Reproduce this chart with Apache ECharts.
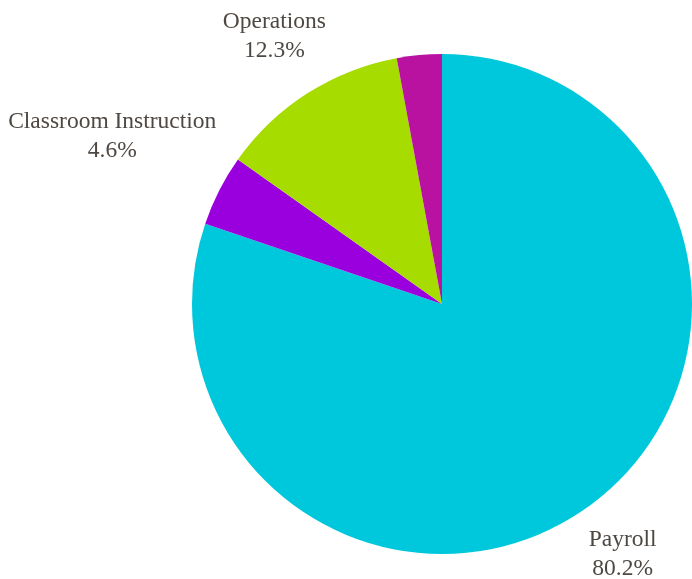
<!DOCTYPE html>
<html><head><meta charset="utf-8">
<script src="https://cdn.jsdelivr.net/npm/echarts@6/dist/echarts.min.js"></script>
<style>html,body{margin:0;padding:0;background:#fff}#c{width:692px;height:579px}</style>
</head><body><div id="c"></div>
<script>
const categories = ['Payroll', 'Classroom Instruction', 'Operations', 'Other'];
const values = [80.2, 4.6, 12.3, 2.9];
const showLabel = [true, true, true, false];
const colors = ['#00C8DC', '#9A00DE', '#A6DC00', '#BA12A0'];
// label centre offset (px) from the slice's outer mid-point
const labelOffset = [[35, 47], [-107, -54], [-33, -57], [0, 0]];

const CX = 442, CY = 304, R = 250;
const total = values.reduce((a, b) => a + b, 0);
function midAngle(i) {
  let s = 0;
  for (let k = 0; k < i; k++) s += values[k];
  return ((s + values[i] / 2) / total) * Math.PI * 2;
}
const chart = echarts.init(document.getElementById('c'));
chart.setOption({
  animation: false,
  series: [{
    type: 'pie',
    center: [CX, CY],
    radius: [0, R],
    startAngle: 90,
    clockwise: true,
    avoidLabelOverlap: false,
    data: categories.map((n, i) => ({
      name: n, value: values[i],
      itemStyle: { color: colors[i] },
      label: { show: showLabel[i] }
    })),
    label: {
      position: 'outside',
      fontFamily: 'Liberation Serif',
      fontSize: 23.5,
      lineHeight: 29,
      color: '#4e4843',
      align: 'center',
      formatter: p => p.name + '\n' + p.value.toFixed(1) + '%'
    },
    labelLine: { show: false },
    labelLayout: function (p) {
      const a = midAngle(p.dataIndex);
      const ex = CX + R * Math.sin(a), ey = CY - R * Math.cos(a);
      const o = labelOffset[p.dataIndex];
      return { x: ex + o[0], y: ey + o[1], align: 'center', verticalAlign: 'middle' };
    }
  }]
});
</script></body></html>
